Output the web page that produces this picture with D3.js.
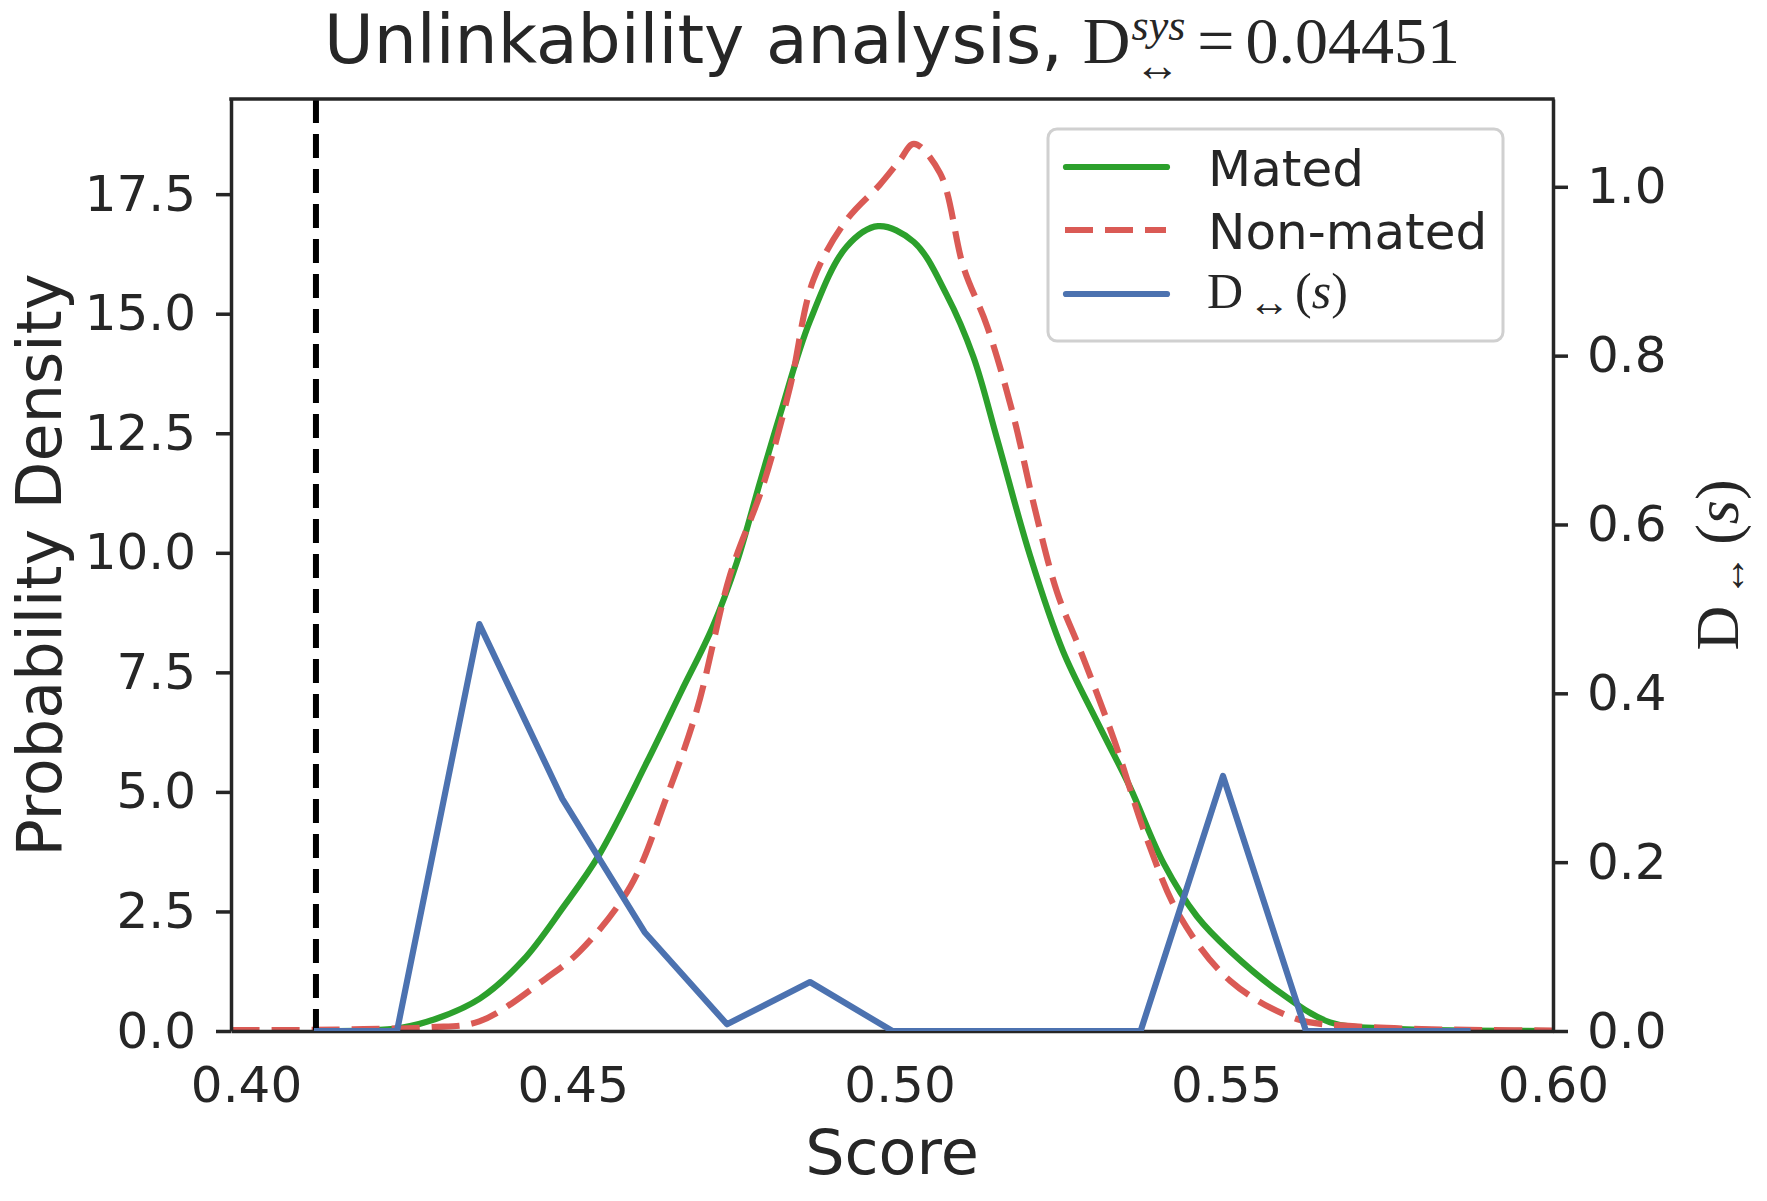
<!DOCTYPE html>
<html>
<head>
<meta charset="utf-8">
<script src="https://cdn.jsdelivr.net/npm/d3@7"></script>
<style>body{margin:0;background:#fff}</style>
</head>
<body>
<script>
// values
const xTicks = [0.40, 0.45, 0.50, 0.55, 0.60]
const densityTicks = [0, 2.5, 5, 7.5, 10, 12.5, 15, 17.5]
const dTicks = [0, 0.2, 0.4, 0.6, 0.8, 1.0]

const matedScores = [0.4104, 0.4180, 0.4235, 0.4290, 0.4358, 0.4424, 0.4486, 0.4541, 0.4613, 0.4666, 0.4714, 0.4751, 0.4787, 0.4817, 0.4863, 0.4919, 0.4967, 0.5022, 0.5072, 0.5113, 0.5149, 0.5200, 0.5250, 0.5302, 0.5352, 0.5404, 0.5455, 0.5506, 0.5583, 0.5659, 0.5748, 0.5874, 0.600]
const matedDensity = [0, 0.01, 0.06, 0.25, 0.68, 1.48, 2.6, 3.7, 5.61, 7.1, 8.45, 9.8, 11.5, 12.88, 14.85, 16.4, 16.83, 16.5, 15.4, 14.1, 12.4, 9.93, 7.95, 6.48, 5.12, 3.51, 2.4, 1.67, 0.8, 0.18, 0.05, 0.01, 0]

const nonMatedScores = [0.3978, 0.4079, 0.4180, 0.4281, 0.4357, 0.4459, 0.4511, 0.4588, 0.4643, 0.4690, 0.4741, 0.4791, 0.4833, 0.4868, 0.4919, 0.4970, 0.5000, 0.5022, 0.5062, 0.5098, 0.5134, 0.5174, 0.5205, 0.5241, 0.5277, 0.5328, 0.5379, 0.5429, 0.5506, 0.5608, 0.5697, 0.5799, 0.5900, 0.600]
const nonMatedDensity = [0.02, 0.02, 0.04, 0.08, 0.2, 1.1, 1.67, 3.02, 4.87, 6.72, 9.55, 11.4, 13.5, 15.7, 16.96, 17.7, 18.2, 18.55, 17.94, 15.97, 14.74, 12.88, 11.04, 9.18, 7.95, 6.1, 4.0, 2.4, 1.05, 0.25, 0.1, 0.04, 0.02, 0.01]

const binScores = [0.4104, 0.4231, 0.4357, 0.4484, 0.4610, 0.4736, 0.4863, 0.4989, 0.5116, 0.5242, 0.5369, 0.5495, 0.5622, 0.5748, 0.5874]
const dValues = [0, 0, 0.482, 0.275, 0.117, 0.008, 0.058, 0, 0, 0, 0, 0.302, 0, 0, 0]

const threshold = 0.4107
const dSys = '0.04451'

const WIDTH = 1767, HEIGHT = 1201
const LEFT = 231, RIGHT = 1553, TOP = 99, BOTTOM = 1031
const INK = '#262626'
const SANS = 'DejaVu Sans'
const SERIF = 'Liberation Serif'
const GREEN = '#2ca02c', RED = '#da5a55', BLUE = '#4c72b0'
const LW = 6.2

const svg = d3.select('body').append('svg').attr('width', WIDTH).attr('height', HEIGHT)

const x = d3.scaleLinear().domain([0.3977, 0.60]).range([LEFT, RIGHT])
const yDensity = d3.scaleLinear().domain([0, 19.49]).range([BOTTOM, TOP])
const yD = d3.scaleLinear().domain([0, 1.104]).range([BOTTOM, TOP])

svg.append('clipPath').attr('id', 'plotclip')
  .append('rect').attr('x', LEFT).attr('y', TOP).attr('width', RIGHT - LEFT).attr('height', BOTTOM - TOP)

// lays out a run of text pieces as tspans of one text element (mathtext bits)
function mathRun(g, pieces) {
  const text = g.append('text').attr('fill', INK)
  let cursor = 0, prevStart = 0, prevEnd = 0
  pieces.forEach(p => {
    const t = text.append('tspan').text(p.text)
      .attr('font-family', p.family || SERIF)
      .attr('font-size', p.size)
      .attr('font-style', p.style || 'normal')
    const w = t.node().getComputedTextLength()
    const start = p.stack ? prevStart + (p.gap || 0) : cursor + (p.gap || 0)
    t.attr('x', start).attr('y', p.shift || 0)
    const end = start + w
    if (p.stack) {
      prevEnd = Math.max(prevEnd, end)
    } else {
      prevStart = start
      prevEnd = end
    }
    cursor = prevEnd
  })
  return cursor
}

// density curves
const plot = svg.append('g').attr('clip-path', 'url(#plotclip)')
const densityLine = d3.line().x(d => x(d[0])).y(d => yDensity(d[1])).curve(d3.curveCatmullRom.alpha(0.5))

plot.append('path').datum(d3.zip(matedScores, matedDensity))
  .attr('d', densityLine).attr('fill', 'none')
  .attr('stroke', GREEN).attr('stroke-width', LW).attr('stroke-linejoin', 'round')

plot.append('path').datum(d3.zip(nonMatedScores, nonMatedDensity))
  .attr('d', densityLine).attr('fill', 'none')
  .attr('stroke', RED).attr('stroke-width', LW).attr('stroke-dasharray', '28,12')

plot.append('line')
  .attr('x1', x(threshold)).attr('x2', x(threshold))
  .attr('y1', TOP).attr('y2', BOTTOM)
  .attr('stroke', '#000').attr('stroke-width', 6).attr('stroke-dasharray', '24,11')

// axes
function styleAxis(g) {
  g.select('.domain').attr('stroke', INK).attr('stroke-width', 3.5)
  g.selectAll('.tick line').attr('stroke', INK).attr('stroke-width', 3.5)
  g.selectAll('.tick text').attr('fill', INK).attr('font-size', 50).attr('font-family', SANS)
}

svg.append('g').attr('transform', `translate(${LEFT},0)`)
  .call(d3.axisLeft(yDensity).tickValues(densityTicks).tickFormat(d3.format('.1f')).tickSize(15).tickSizeOuter(0).tickPadding(20))
  .call(styleAxis)

// no tick marks on the score axis, labels only
svg.append('g').attr('transform', `translate(0,${BOTTOM})`)
  .call(d3.axisBottom(x).tickValues(xTicks).tickFormat(d3.format('.2f')).tickSize(0).tickSizeOuter(0).tickPadding(35))
  .call(styleAxis)

svg.append('line').attr('x1', LEFT).attr('x2', RIGHT).attr('y1', TOP).attr('y2', TOP)
  .attr('stroke', INK).attr('stroke-width', 3.5).attr('stroke-linecap', 'square')

svg.append('g').attr('transform', `translate(${RIGHT},0)`)
  .call(d3.axisRight(yD).tickValues(dTicks).tickFormat(d3.format('.1f')).tickSize(15).tickSizeOuter(0).tickPadding(19))
  .call(styleAxis)

// D(s) on the twin axis
svg.append('g').attr('clip-path', 'url(#plotclip)')
  .append('path').datum(d3.zip(binScores, dValues))
  .attr('d', d3.line().x(d => x(d[0])).y(d => yD(d[1])))
  .attr('fill', 'none').attr('stroke', BLUE).attr('stroke-width', LW).attr('stroke-linejoin', 'round')

// labels
svg.append('text').attr('x', (LEFT + RIGHT) / 2).attr('y', 1174)
  .attr('text-anchor', 'middle').attr('font-family', SANS).attr('font-size', 62).attr('fill', INK)
  .text('Score')

svg.append('text').attr('transform', `translate(61,${(TOP + BOTTOM) / 2}) rotate(-90)`)
  .attr('text-anchor', 'middle').attr('font-family', SANS).attr('font-size', 62).attr('fill', INK)
  .text('Probability Density')

const rightLabel = svg.append('g')
const rlInner = rightLabel.append('g')
const rlW = mathRun(rlInner, [
  { text: 'D', size: 62 },
  { text: '↔', size: 42, shift: 7, gap: 9 },
  { text: '(', size: 62, gap: 10 },
  { text: 's', size: 62, style: 'italic' },
  { text: ')', size: 62 }
])
rlInner.attr('transform', `translate(${-rlW / 2},0)`)
rightLabel.attr('transform', `translate(1738,${(TOP + BOTTOM) / 2}) rotate(-90)`)

// title
const title = svg.append('g')
const tW = mathRun(title, [
  { text: 'Unlinkability analysis,', family: SANS, size: 68 },
  { text: 'D', size: 66, gap: 20 },
  { text: 'sys', size: 44, style: 'italic', shift: -23, gap: 1 },
  { text: '↔', size: 46, shift: 18, stack: true, gap: 3 },
  { text: '=', size: 66, gap: 12 },
  { text: dSys, size: 66, gap: 11 }
])
title.attr('transform', `translate(${(LEFT + RIGHT) / 2 - tW / 2},63)`)

// legend
const legend = svg.append('g')
legend.append('rect').attr('x', 1048).attr('y', 129).attr('width', 455).attr('height', 212)
  .attr('rx', 9).attr('fill', '#fff').attr('fill-opacity', 0.8)
  .attr('stroke', '#d0d0d0').attr('stroke-width', 3)

const legendRows = [
  { label: 'Mated', color: GREEN, dash: null, y: 167 },
  { label: 'Non-mated', color: RED, dash: '28,12', y: 230 },
  { label: null, color: BLUE, dash: null, y: 294 }
]
legendRows.forEach(r => {
  legend.append('line')
    .attr('x1', r.dash ? 1065 : 1066).attr('x2', r.dash ? 1166 : 1167)
    .attr('y1', r.y).attr('y2', r.y)
    .attr('stroke', r.color).attr('stroke-width', LW)
    .attr('stroke-linecap', r.dash ? 'butt' : 'round')
    .attr('stroke-dasharray', r.dash)
  if (r.label) {
    legend.append('text').attr('x', 1208).attr('y', r.y + 19)
      .attr('font-family', SANS).attr('font-size', 50).attr('fill', INK).text(r.label)
  }
})
const dEntry = legend.append('g').attr('transform', 'translate(1207,308)')
mathRun(dEntry, [
  { text: 'D', size: 50 },
  { text: '↔', size: 42, shift: 8, gap: 5 },
  { text: '(', size: 50, gap: 5 },
  { text: 's', size: 50, style: 'italic' },
  { text: ')', size: 50 }
])
</script>
</body>
</html>
